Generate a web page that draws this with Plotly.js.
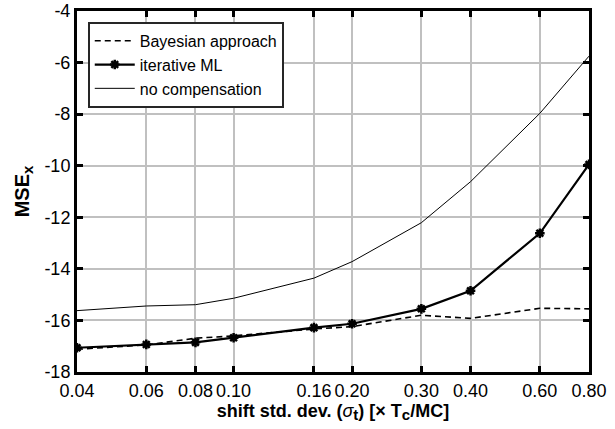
<!DOCTYPE html>
<html><head><meta charset="utf-8">
<script src="https://cdn.plot.ly/plotly-3.0.1.min.js"></script>
<style>body{margin:0;padding:0;background:#fff}#plot{width:615px;height:429px}</style>
</head><body><div id="plot"></div>
<script>
const xVals = [0.04, 0.06, 0.08, 0.10, 0.16, 0.20, 0.30, 0.40, 0.60, 0.80];
const xTickText = ["0.04","0.06","0.08","0.10","0.16","0.20","0.30","0.40","0.60","0.80"];
const bayesian = [-17.12, -16.95, -16.69, -16.60, -16.33, -16.24, -15.80, -15.92, -15.53, -15.55];
const iterativeML = [-17.06, -16.93, -16.85, -16.67, -16.28, -16.13, -15.55, -14.85, -12.62, -9.95];
const noComp = [-15.62, -15.44, -15.39, -15.14, -14.36, -13.72, -12.21, -10.62, -7.97, -5.75];
const yTicks = [-18, -16, -14, -12, -10, -8, -6, -4];
const yTickText = ["-18", "-16", "-14", "-12", "-10", "-8", "-6", "-4"];

const traces = [
  {x: xVals, y: bayesian, name: 'Bayesian approach', mode: 'lines',
   line: {color: '#000', width: 1.6, dash: '6px,4px'}},
  {x: xVals, y: iterativeML, name: 'iterative ML', mode: 'lines+markers',
   line: {color: '#000', width: 2.2},
   marker: {symbol: 'asterisk-open', size: 8, color: '#000', line: {color: '#000', width: 2.5}}},
  {x: xVals, y: noComp, name: 'no compensation', mode: 'lines',
   line: {color: '#000', width: 1}}
];

const layout = {
  width: 615, height: 429,
  margin: {l: 77, r: 26, t: 11, b: 57},
  paper_bgcolor: '#fff', plot_bgcolor: '#fff',
  font: {family: 'Liberation Sans, Arial, sans-serif', size: 18, color: '#000'},
  showlegend: true,
  legend: {x: 0.021, y: 0.97, xanchor: 'left', yanchor: 'top',
           bgcolor: '#fff', bordercolor: '#262626', borderwidth: 2,
           font: {size: 16}, tracegroupgap: 0, itemwidth: 40},
  xaxis: {type: 'log', range: [Math.log10(0.04), Math.log10(0.8)],
          tickvals: xVals, ticktext: xTickText,
          showgrid: true, gridcolor: '#c0c0c0', gridwidth: 2,
          showline: true, linecolor: '#000', linewidth: 3, mirror: 'ticks',
          ticks: 'inside', ticklen: 6, tickwidth: 3, tickcolor: '#000',
          zeroline: false, tickfont: {size: 18},
          title: {text: '<b>shift std. dev. (</b><i>σ</i><sub><span style="font-size:15px"><b>t</b></span></sub><b>) [× T</b><sub><span style="font-size:15px"><b>c</b></span></sub><b>/MC]</b>',
                  font: {size: 18}, standoff: 0}},
  yaxis: {range: [-18, -4], tickvals: yTicks, ticktext: yTickText,
          showgrid: true, gridcolor: '#c0c0c0', gridwidth: 2,
          showline: true, linecolor: '#000', linewidth: 3, mirror: 'ticks',
          ticks: 'inside', ticklen: 6, tickwidth: 3, tickcolor: '#000',
          zeroline: false, tickfont: {size: 18},
          title: {text: '<b>MSE</b><sub><span style="font-size:15px"><b>x</b></span></sub>', font: {size: 20}, standoff: 10}}
};
Plotly.newPlot('plot', traces, layout, {displayModeBar: false, staticPlot: true});
</script></body></html>
